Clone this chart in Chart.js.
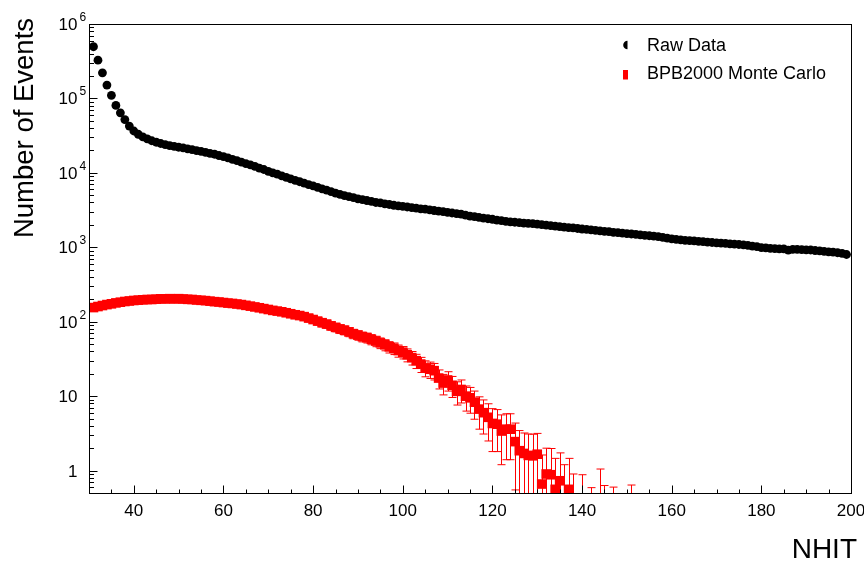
<!DOCTYPE html>
<html>
<head>
<meta charset="utf-8">
<script src="https://cdn.jsdelivr.net/npm/chart.js@4.4.1/dist/chart.umd.min.js"></script>
<style>
  html, body { margin: 0; padding: 0; background: #fff; }
  #wrap { width: 864px; height: 561px; }
</style>
</head>
<body>
<div id="wrap"><canvas id="c" width="864" height="561"></canvas></div>
<script>
/* NHIT spectrum: raw data vs BPB2000 Monte Carlo, log y (ROOT-style frame) */

// ---------- data ----------
const rawNhit = [
  31, 32, 33, 34, 35, 36, 37, 38, 39, 40, 41, 42, 43, 44, 45, 46, 47, 48, 49, 50,
  51, 52, 53, 54, 55, 56, 57, 58, 59, 60, 61, 62, 63, 64, 65, 66, 67, 68, 69, 70,
  71, 72, 73, 74, 75, 76, 77, 78, 79, 80, 81, 82, 83, 84, 85, 86, 87, 88, 89, 90,
  91, 92, 93, 94, 95, 96, 97, 98, 99, 100, 101, 102, 103, 104, 105, 106, 107, 108, 109, 110,
  111, 112, 113, 114, 115, 116, 117, 118, 119, 120, 121, 122, 123, 124, 125, 126, 127, 128, 129, 130,
  131, 132, 133, 134, 135, 136, 137, 138, 139, 140, 141, 142, 143, 144, 145, 146, 147, 148, 149, 150,
  151, 152, 153, 154, 155, 156, 157, 158, 159, 160, 161, 162, 163, 164, 165, 166, 167, 168, 169, 170,
  171, 172, 173, 174, 175, 176, 177, 178, 179, 180, 181, 182, 183, 184, 185, 186, 187, 188, 189, 190,
  191, 192, 193, 194, 195, 196, 197, 198, 199,
];
const rawEvents = [
  495000, 327000, 221000, 151000, 110000, 80500, 64000, 52000, 42500, 36500,
  33000, 30500, 28600, 27000, 25800, 24800, 24000, 23200, 22700, 22100,
  21600, 21000, 20500, 19900, 19500, 18900, 18300, 17800, 17100, 16500,
  15900, 15200, 14600, 13900, 13300, 12800, 12200, 11600, 11100, 10500,
  10000, 9600, 9100, 8700, 8300, 7950, 7600, 7300, 6950, 6700,
  6400, 6100, 5850, 5600, 5350, 5150, 4950, 4800, 4650, 4480,
  4380, 4250, 4130, 4000, 3940, 3830, 3760, 3670, 3610, 3550,
  3480, 3420, 3360, 3290, 3250, 3180, 3120, 3060, 3010, 2950,
  2890, 2840, 2790, 2700, 2620, 2580, 2520, 2470, 2420, 2380,
  2320, 2280, 2230, 2200, 2170, 2150, 2110, 2100, 2080, 2050,
  2020, 1990, 1960, 1930, 1900, 1870, 1840, 1820, 1790, 1760,
  1740, 1710, 1690, 1660, 1640, 1620, 1590, 1570, 1550, 1530,
  1510, 1490, 1470, 1450, 1430, 1410, 1390, 1360, 1330, 1300,
  1280, 1260, 1240, 1230, 1220, 1200, 1190, 1170, 1160, 1150,
  1140, 1130, 1110, 1100, 1090, 1080, 1060, 1040, 1020, 990,
  985, 970, 960, 955, 950, 915, 940, 935, 930, 925,
  920, 905, 895, 880, 870, 860, 845, 830, 800,
];

const mcNhit = [
  31, 32, 33, 34, 35, 36, 37, 38, 39, 40, 41, 42, 43, 44, 45, 46, 47, 48, 49, 50,
  51, 52, 53, 54, 55, 56, 57, 58, 59, 60, 61, 62, 63, 64, 65, 66, 67, 68, 69, 70,
  71, 72, 73, 74, 75, 76, 77, 78, 79, 80, 81, 82, 83, 84, 85, 86, 87, 88, 89, 90,
  91, 92, 93, 94, 95, 96, 97, 98, 99, 100, 101, 102, 103, 104, 105, 106, 107, 108, 109, 110,
  111, 112, 113, 114, 115, 116, 117, 118, 119, 120, 121, 122, 123, 124, 125, 126, 127, 128, 129, 130,
  131, 132, 133, 134, 135, 136, 137, 138, 139, 140, 141, 142, 143, 144, 145, 146, 147, 148, 149, 150,
  151,
];
// null = empty bin
const mcEvents = [
  155, 160, 165, 170, 174, 179, 183, 187, 190, 193,
  195, 197, 199, 199, 201, 203, 203, 204, 203, 204,
  202, 200, 199, 196, 194, 192, 189, 186, 184, 181,
  178, 176, 173, 170, 166, 162, 158, 154, 150, 146,
  142, 139, 136, 132, 128, 124, 121, 117, 112, 107,
  102, 97, 93, 88, 84, 80, 77, 73, 69, 66,
  63, 61, 58, 55, 52, 49, 46, 44, 41, 39,
  36, 33, 30, 27, 24, 23, 22, 17.5, 15, 16.5,
  14, 11.6, 12.3, 10, 9.5, 8.3, 6.7, 6, 5.2, 4.3,
  4.2, 3.4, 3.6, 3.6, 2.45, 1.85, 1.7, 1.6, 1.58, 1.66,
  0.66, 0.9, 0.88, 0.56, 0.73, 0.4, 0.56, 0.3, null, 0.3,
  null, 0.2, null, 0.35, 0.2, null, 0.2, null, null, null,
  0.2,
];
const mcErrors = [
  14.7, 15.0, 15.2, 15.4, 15.6, 15.8, 16.0, 16.2, 16.3, 16.4,
  16.5, 16.6, 16.7, 16.7, 16.8, 16.9, 16.9, 16.9, 16.9, 16.9,
  16.8, 16.7, 16.7, 16.6, 16.5, 16.4, 16.3, 16.1, 16.0, 15.9,
  15.8, 15.7, 15.6, 15.4, 15.2, 15.1, 14.9, 14.7, 14.5, 14.3,
  14.1, 13.9, 13.8, 13.6, 13.4, 13.2, 13.0, 12.8, 12.5, 12.2,
  12.0, 11.7, 11.4, 11.1, 10.8, 10.6, 10.4, 10.1, 9.9, 9.6,
  9.4, 9.2, 9.0, 8.8, 8.5, 8.3, 8.0, 7.8, 7.6, 7.4,
  7.1, 6.8, 6.5, 6.2, 5.8, 5.7, 5.5, 5.0, 4.6, 4.8,
  4.4, 4.0, 4.2, 3.7, 3.6, 3.4, 3.1, 2.9, 2.7, 2.5,
  2.4, 2.2, 2.2, 2.2, 1.9, 1.6, 1.5, 1.5, 1.5, 1.5,
  0.96, 1.1, 1.1, 0.9, 1.0, 0.8, 0.9, 0.6, null, 0.58,
  null, 0.39, null, 0.7, 0.43, null, 0.4, null, null, null,
  0.44,
];

// axis ticks / labels
const xTickValues = [40, 60, 80, 100, 120, 140, 160, 180, 200];
const yTickValues = [1, 10, 100, 1000, 10000, 100000, 1000000];
const yTickBase = ["1", "10", "10", "10", "10", "10", "10"];
const yTickExp = ["", "", "2", "3", "4", "5", "6"];

const X_MIN = 30, X_MAX = 200, Y_MIN = 0.5, Y_MAX = 1e6;
const FONT = '"Liberation Sans", Arial, Helvetica, sans-serif';
const RAW_COLOR = "#000000";
const MC_COLOR = "#ff0000";

// ---------- plugins ----------
// vertical error bars with caps for the MC histogram (clipped to the frame, like ROOT)
const errorBars = {
  id: "errorBars",
  beforeDatasetsDraw(chart) {
    const { ctx, chartArea: a, scales: { x, y } } = chart;
    ctx.save();
    ctx.beginPath();
    ctx.rect(a.left, a.top, a.right - a.left, a.bottom - a.top);
    ctx.clip();
    ctx.strokeStyle = MC_COLOR;
    ctx.lineWidth = 1;
    mcNhit.forEach((n, i) => {
      const v = mcEvents[i], e = mcErrors[i];
      if (v == null || e == null) return;
      const px = Math.round(x.getPixelForValue(n)) + 0.5;
      const yHi = y.getPixelForValue(v + e);
      const lo = v - e;
      const yLo = lo > 0 ? y.getPixelForValue(lo) : a.bottom + 20;
      ctx.beginPath();
      ctx.moveTo(px, yHi); ctx.lineTo(px, yLo);
      ctx.moveTo(px - 4, yHi); ctx.lineTo(px + 4, yHi);
      if (lo > 0) { ctx.moveTo(px - 4, yLo); ctx.lineTo(px + 4, yLo); }
      ctx.stroke();
    });
    ctx.restore();
  },
};

// ROOT-style frame: inward ticks, superscript log labels, titles, legend
const rootFrame = {
  id: "rootFrame",
  afterDraw(chart) {
    const { ctx, chartArea: a, scales: { x, y } } = chart;
    ctx.save();
    ctx.strokeStyle = "#000";
    ctx.fillStyle = "#000";
    ctx.lineWidth = 1;
    ctx.strokeRect(Math.round(a.left) + 0.5, Math.round(a.top) + 0.5,
      Math.round(a.right - a.left), Math.round(a.bottom - a.top));

    const bottom = Math.round(a.bottom) + 0.5;
    const left = Math.round(a.left) + 0.5;

    // x ticks: minor every 5, major every 20
    ctx.beginPath();
    for (let v = 35; v < X_MAX; v += 5) {
      const px = Math.round(x.getPixelForValue(v)) + 0.5;
      const len = xTickValues.includes(v) ? 8 : 4;
      ctx.moveTo(px, bottom); ctx.lineTo(px, bottom - len);
    }
    // y ticks: decades + 2..9 minors
    for (let d = -1; d < 6; d++) {
      for (let m = 1; m <= 9; m++) {
        const v = m * Math.pow(10, d);
        if (v < Y_MIN || v > Y_MAX) continue;
        const py = Math.round(y.getPixelForValue(v)) + 0.5;
        const len = m === 1 ? 8 : 4.5;
        ctx.moveTo(left, py); ctx.lineTo(left + len, py);
      }
    }
    ctx.stroke();

    // x tick labels
    ctx.font = "17px " + FONT;
    ctx.textAlign = "center";
    ctx.textBaseline = "alphabetic";
    xTickValues.forEach((v) => {
      ctx.fillText(String(v), x.getPixelForValue(v), 516);
    });

    // y tick labels with superscripts
    yTickValues.forEach((v, i) => {
      const py = y.getPixelForValue(v);
      ctx.font = "17px " + FONT;
      ctx.textAlign = "right";
      ctx.fillText(yTickBase[i], 77.5, py + 6);
      if (yTickExp[i]) {
        ctx.font = "12px " + FONT;
        ctx.textAlign = "left";
        ctx.fillText(yTickExp[i], 79.5, py - 3);
      }
    });

    // axis titles
    ctx.font = "28px " + FONT;
    ctx.textAlign = "right";
    ctx.fillText("NHIT", 857, 558);
    ctx.save();
    ctx.translate(33, 128);
    ctx.rotate(-Math.PI / 2);
    ctx.font = "27.5px " + FONT;
    ctx.textAlign = "center";
    ctx.fillText("Number of Events", 0, 0);
    ctx.restore();

    // legend
    ctx.fillStyle = RAW_COLOR;
    ctx.beginPath();
    ctx.arc(627.5, 45, 4.3, Math.PI / 2, Math.PI * 1.5);
    ctx.closePath();
    ctx.fill();
    ctx.fillStyle = MC_COLOR;
    ctx.fillRect(623, 70, 5, 9.5);
    ctx.fillStyle = "#000";
    ctx.font = "18px " + FONT;
    ctx.textAlign = "left";
    ctx.fillText("Raw Data", 647, 51);
    ctx.fillText("BPB2000 Monte Carlo", 647, 78.5);
    ctx.restore();
  },
};

// ---------- chart ----------
new Chart(document.getElementById("c"), {
  type: "scatter",
  data: {
    datasets: [
      {
        label: "Raw Data",
        data: rawNhit.map((n, i) => ({ x: n, y: rawEvents[i] })),
        pointStyle: "circle",
        pointRadius: 4.4,
        pointBorderWidth: 0,
        backgroundColor: RAW_COLOR,
        borderColor: RAW_COLOR,
        clip: 0,
      },
      {
        label: "BPB2000 Monte Carlo",
        data: mcNhit.map((n, i) => ({ x: n, y: mcEvents[i] })),
        pointStyle: "rect",
        pointRadius: 6.8,
        pointBorderWidth: 0,
        backgroundColor: MC_COLOR,
        borderColor: MC_COLOR,
        clip: 0,
      },
    ],
  },
  options: {
    responsive: false,
    animation: false,
    events: [],
    layout: { padding: { left: 89, right: 13, top: 24, bottom: 68 } },
    plugins: { legend: { display: false }, tooltip: { enabled: false } },
    scales: {
      x: { type: "linear", min: X_MIN, max: X_MAX, display: false },
      y: { type: "logarithmic", min: Y_MIN, max: Y_MAX, display: false },
    },
  },
  plugins: [errorBars, rootFrame],
});
</script>
</body>
</html>
